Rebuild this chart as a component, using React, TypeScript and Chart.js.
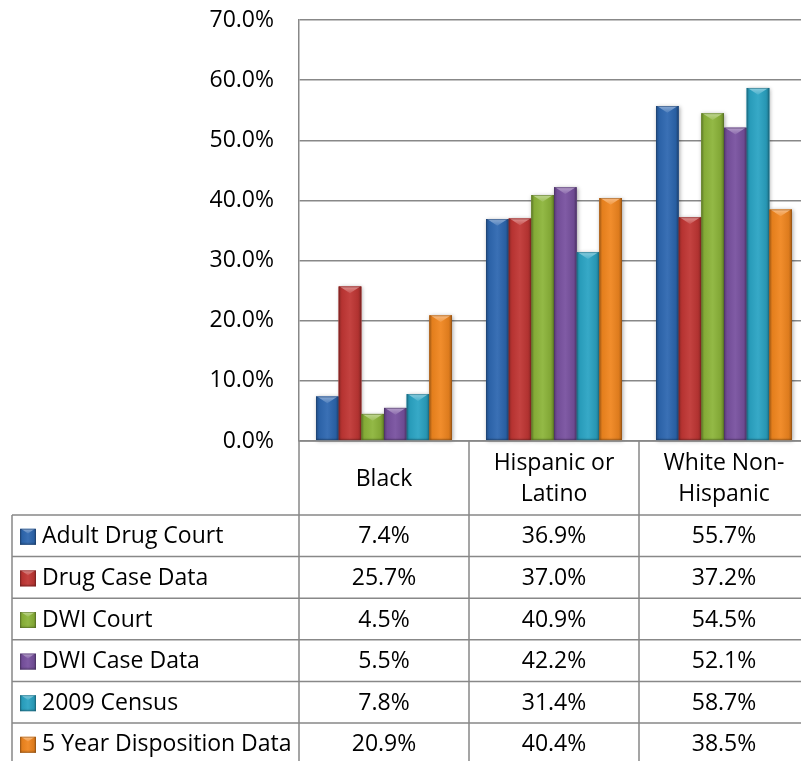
import React, { useEffect, useRef } from "react";
import { Chart, registerables } from "chart.js";

Chart.register(...registerables);

// Categories (each entry split into the lines shown in the table header)
const CATEGORIES: string[][] = [["Black"], ["Hispanic or", "Latino"], ["White Non-", "Hispanic"]];

// Series names and values (percent)
const SERIES_NAMES = [
  "Adult Drug Court",
  "Drug Case Data",
  "DWI Court",
  "DWI Case Data",
  "2009 Census",
  "5 Year Disposition Data",
];
const ADULT_DRUG_COURT = [7.4, 36.9, 55.7];
const DRUG_CASE_DATA = [25.7, 37.0, 37.2];
const DWI_COURT = [4.5, 40.9, 54.5];
const DWI_CASE_DATA = [5.5, 42.2, 52.1];
const CENSUS_2009 = [7.8, 31.4, 58.7];
const FIVE_YEAR_DISPOSITION = [20.9, 40.4, 38.5];
const SERIES_VALUES = [
  ADULT_DRUG_COURT,
  DRUG_CASE_DATA,
  DWI_COURT,
  DWI_CASE_DATA,
  CENSUS_2009,
  FIVE_YEAR_DISPOSITION,
];
const SERIES_COLORS = ["#2d67b0", "#c03634", "#8cb43a", "#78519f", "#2aa3c3", "#f0861f"];

// Axis range
const Y_MIN = 0;
const Y_MAX = 70;
const Y_STEP = 10;

const FONT = '"Open Sans", "DejaVu Sans", sans-serif';
const FONT_SIZE = 23;
const LINE_COLOR = "#888888";

function hexToRgb(hex: string): [number, number, number] {
  const h = hex.replace("#", "");
  return [parseInt(h.slice(0, 2), 16), parseInt(h.slice(2, 4), 16), parseInt(h.slice(4, 6), 16)];
}
function shade(hex: string, f: number): string {
  const [r, g, b] = hexToRgb(hex);
  return `rgb(${Math.round(r * f)},${Math.round(g * f)},${Math.round(b * f)})`;
}
function tint(hex: string, t: number): string {
  const [r, g, b] = hexToRgb(hex);
  const m = (c: number) => Math.round(c + (255 - c) * t);
  return `rgb(${m(r)},${m(g)},${m(b)})`;
}

// Beveled rectangle in the style of an Office 3-D bar
function drawBevel(ctx: CanvasRenderingContext2D, x0: number, y0: number, x1: number, y1: number, color: string) {
  const w = x1 - x0;
  const h = y1 - y0;
  if (w <= 0 || h <= 0) return;
  const g = ctx.createLinearGradient(x0, 0, x1, 0);
  g.addColorStop(0, shade(color, 0.72));
  g.addColorStop(0.14, shade(color, 0.95));
  g.addColorStop(0.5, tint(color, 0.06));
  g.addColorStop(0.86, shade(color, 0.92));
  g.addColorStop(1, shade(color, 0.68));
  ctx.fillStyle = g;
  ctx.fillRect(x0, y0, w, h);
  // bottom darker edge
  const gb = ctx.createLinearGradient(0, y1 - 3, 0, y1);
  gb.addColorStop(0, "rgba(0,0,0,0)");
  gb.addColorStop(1, "rgba(0,0,0,0.18)");
  ctx.fillStyle = gb;
  ctx.fillRect(x0, Math.max(y0, y1 - 3), w, Math.min(3, h));
  // top chevron highlight
  const th = Math.min(w * 0.3, h);
  const gt = ctx.createLinearGradient(0, y0, 0, y0 + th);
  gt.addColorStop(0, tint(color, 0.45));
  gt.addColorStop(1, tint(color, 0.15));
  ctx.fillStyle = gt;
  ctx.beginPath();
  ctx.moveTo(x0 + 1, y0);
  ctx.lineTo(x1 - 1, y0);
  ctx.lineTo((x0 + x1) / 2, y0 + th);
  ctx.closePath();
  ctx.fill();
  // thin outline
  ctx.strokeStyle = shade(color, 0.6);
  ctx.globalAlpha = 0.5;
  ctx.lineWidth = 1;
  ctx.strokeRect(x0 + 0.5, y0 + 0.5, w - 1, h - 1);
  ctx.globalAlpha = 1;
}

const bevelPlugin = {
  id: "bevelBars",
  beforeDatasetsDraw(chart: any) {
    const { ctx } = chart;
    ctx.save();
    ctx.shadowColor = "rgba(0,0,0,0.35)";
    ctx.shadowBlur = 4;
    ctx.shadowOffsetX = 1;
    ctx.shadowOffsetY = 1;
    ctx.fillStyle = "#ffffff";
    chart.data.datasets.forEach((_: any, di: number) => {
      chart.getDatasetMeta(di).data.forEach((bar: any) => {
        const x0 = bar.x - bar.width / 2;
        ctx.fillRect(x0, bar.y, bar.width, bar.base - bar.y);
      });
    });
    ctx.restore();
  },
  afterDatasetsDraw(chart: any) {
    const { ctx } = chart;
    ctx.save();
    chart.data.datasets.forEach((ds: any, di: number) => {
      chart.getDatasetMeta(di).data.forEach((bar: any) => {
        const x0 = bar.x - bar.width / 2;
        drawBevel(ctx, x0, bar.y, x0 + bar.width, bar.base, ds.backgroundColor);
      });
    });
    ctx.restore();
  },
};

// Data table below the plot: category header row plus one row per series
const tablePlugin = {
  id: "dataTable",
  afterDraw(chart: any) {
    const { ctx, chartArea } = chart;
    const labels: string[][] = chart.data.labels;
    const n = labels.length;
    const left = chartArea.left;
    const right = chartArea.right;
    const band = (right - left) / n;
    const tableLeft = 12;
    const headerTop = chartArea.bottom;
    const headerBottom = headerTop + 74;
    const rowH = 41.6;
    const rows = chart.data.datasets.length;
    const bottom = headerBottom + rows * rowH;

    ctx.save();
    ctx.strokeStyle = LINE_COLOR;
    ctx.lineWidth = 1.5;
    ctx.beginPath();
    // axis line
    ctx.moveTo(left, headerTop);
    ctx.lineTo(right, headerTop);
    // row lines
    for (let r = 0; r <= rows; r++) {
      const y = headerBottom + r * rowH;
      ctx.moveTo(tableLeft, y);
      ctx.lineTo(right, y);
    }
    // vertical lines
    ctx.moveTo(tableLeft, headerBottom);
    ctx.lineTo(tableLeft, bottom);
    ctx.moveTo(left, headerTop);
    ctx.lineTo(left, bottom);
    for (let c = 1; c <= n; c++) {
      const x = left + c * band;
      ctx.moveTo(x, headerTop);
      ctx.lineTo(x, bottom);
    }
    ctx.stroke();

    ctx.fillStyle = "#000000";
    ctx.font = `${FONT_SIZE}px ${FONT}`;
    ctx.textBaseline = "middle";
    ctx.textAlign = "center";
    const lineGap = 31;
    labels.forEach((lines, c) => {
      const cx = left + (c + 0.5) * band;
      const cy = (headerTop + headerBottom) / 2 + 1;
      lines.forEach((t, i) => {
        const y = cy + (i - (lines.length - 1) / 2) * lineGap;
        ctx.fillText(t, cx, y);
      });
    });

    chart.data.datasets.forEach((ds: any, r: number) => {
      const cy = headerBottom + (r + 0.5) * rowH;
      drawBevel(ctx, 20, cy - 7, 36, cy + 9, ds.backgroundColor);
      ctx.fillStyle = "#000000";
      ctx.textAlign = "left";
      ctx.fillText(ds.label, 42, cy + 1);
      ctx.textAlign = "center";
      ds.data.forEach((v: number, c: number) => {
        ctx.fillText(`${v.toFixed(1)}%`, left + (c + 0.5) * band, cy + 1);
      });
    });
    ctx.restore();
  },
};

export default function App() {
  const canvasRef = useRef<HTMLCanvasElement | null>(null);

  useEffect(() => {
    if (!canvasRef.current) return;
    const chart = new Chart(canvasRef.current, {
      type: "bar",
      data: {
        labels: CATEGORIES as any,
        datasets: SERIES_NAMES.map((name, i) => ({
          label: name,
          data: SERIES_VALUES[i],
          backgroundColor: SERIES_COLORS[i],
          borderWidth: 0,
          categoryPercentage: 0.8,
          barPercentage: 1.0,
        })),
      },
      options: {
        responsive: false,
        animation: false,
        devicePixelRatio: 1,
        layout: { padding: { left: 0, top: 20, right: 3, bottom: 320 } },
        plugins: { legend: { display: false }, tooltip: { enabled: false } },
        scales: {
          x: { display: false },
          y: {
            min: Y_MIN,
            max: Y_MAX,
            ticks: {
              stepSize: Y_STEP,
              padding: 25,
              color: "#000000",
              font: { family: FONT, size: FONT_SIZE },
              callback: (v: any) => `${Number(v).toFixed(1)}%`,
            },
            grid: { color: LINE_COLOR, lineWidth: 1.5, drawTicks: false },
            border: { display: true, color: LINE_COLOR, width: 1.5 },
            afterFit: (scale: any) => {
              scale.width = 299;
              scale.paddingTop = 0;
              scale.paddingBottom = 0;
            },
          },
        },
      },
      plugins: [bevelPlugin, tablePlugin],
    });
    return () => chart.destroy();
  }, []);

  return (
    <div
      style={{
        position: "fixed",
        left: 0,
        top: 0,
        width: 801,
        height: 761,
        overflow: "hidden",
        background: "#ffffff",
      }}
    >
      <canvas ref={canvasRef} width={812} height={761} style={{ display: "block" }} />
    </div>
  );
}
